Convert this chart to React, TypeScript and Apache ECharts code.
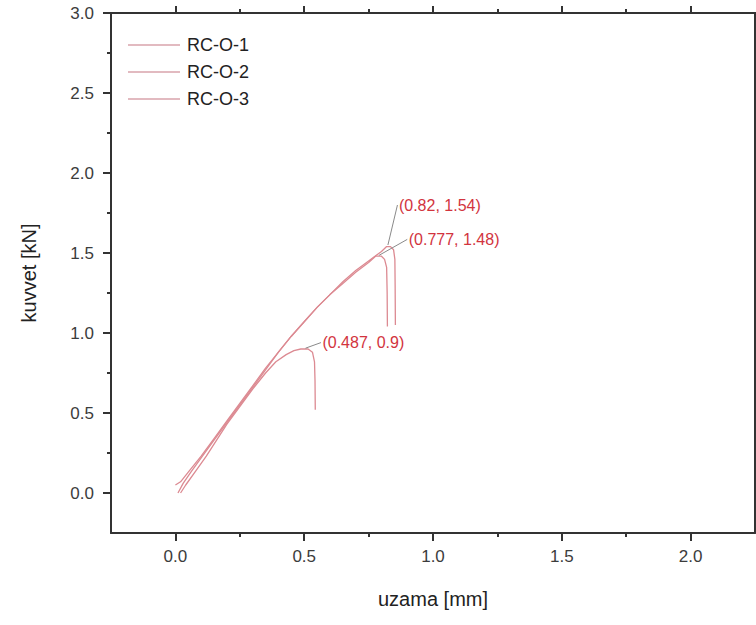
import React, { useEffect, useRef } from 'react';
import * as echarts from 'echarts';

const seriesNames = ['RC-O-1', 'RC-O-2', 'RC-O-3'];

const rc1X = [0.01, 0.03, 0.06, 0.1, 0.15, 0.2, 0.25, 0.3, 0.35, 0.4, 0.45, 0.5, 0.55, 0.6, 0.65, 0.7, 0.75, 0.8, 0.82, 0.835, 0.847, 0.852, 0.853, 0.854];
const rc1Y = [0.0, 0.06, 0.13, 0.22, 0.33, 0.44, 0.55, 0.66, 0.77, 0.88, 0.98, 1.07, 1.16, 1.24, 1.32, 1.39, 1.45, 1.51, 1.54, 1.54, 1.52, 1.46, 1.3, 1.05];

const rc2X = [0.0, 0.02, 0.05, 0.1, 0.15, 0.2, 0.25, 0.3, 0.35, 0.4, 0.45, 0.5, 0.55, 0.6, 0.65, 0.7, 0.75, 0.777, 0.8, 0.812, 0.82, 0.822, 0.823];
const rc2Y = [0.05, 0.07, 0.13, 0.23, 0.34, 0.45, 0.56, 0.67, 0.78, 0.88, 0.98, 1.07, 1.16, 1.24, 1.31, 1.38, 1.44, 1.48, 1.48, 1.46, 1.41, 1.25, 1.04];

const rc3X = [0.02, 0.04, 0.08, 0.12, 0.16, 0.2, 0.25, 0.3, 0.35, 0.39, 0.43, 0.46, 0.487, 0.515, 0.532, 0.54, 0.542, 0.543];
const rc3Y = [0.0, 0.05, 0.14, 0.23, 0.33, 0.43, 0.54, 0.65, 0.75, 0.82, 0.865, 0.89, 0.9, 0.9, 0.88, 0.82, 0.7, 0.52];

const peakX = [0.82, 0.777, 0.487];
const peakY = [1.54, 1.48, 0.9];
const peakLabels = ['(0.82, 1.54)', '(0.777, 1.48)', '(0.487, 0.9)'];

const xMajor = [0, 0.5, 1.0, 1.5, 2.0];
const xMinor = [0.25, 0.75, 1.25, 1.75];
const yMajor = [0, 0.5, 1.0, 1.5, 2.0, 2.5, 3.0];
const yMinor = [0.25, 0.75, 1.25, 1.75, 2.25, 2.75];

const xName = 'uzama [mm]';
const yName = 'kuvvet [kN]';

export default function App() {
  const ref = useRef<HTMLDivElement>(null);
  useEffect(() => {
    if (!ref.current) return;
    const chart = echarts.init(ref.current, undefined, { renderer: 'svg' });
    const font = 'Liberation Sans, Arial, sans-serif';
    const axisColor = '#333333';
    const lineColor = '#dc8a92';
    const textRed = '#d2343e';
    const xs = [rc1X, rc2X, rc3X];
    const ys = [rc1Y, rc2Y, rc3Y];
    // leader-line ends (data units) for annotation labels
    const leaderEnd = [
      [0.862, 1.8],
      [0.9, 1.585],
      [0.565, 0.94],
    ];
    const leaderStart = [
      [0.825, 1.55],
      [0.79, 1.485],
      [0.505, 0.905],
    ];

    const labelStyle = { color: '#3c3c3c', fontSize: 17, fontFamily: font };

    const mkX = (position: string, ticks: number[], len: number, showLabel: boolean, showLine: boolean) => ({
      type: 'value',
      min: -0.25,
      max: 2.25,
      position,
      axisLine: { show: showLine, onZero: false, lineStyle: { color: axisColor, width: 2 } },
      axisTick: { show: true, customValues: ticks, length: len, inside: false, lineStyle: { color: axisColor, width: 2 } },
      axisLabel: showLabel
        ? { show: true, customValues: ticks, formatter: (v: number) => v.toFixed(1), margin: 15, ...labelStyle }
        : { show: false },
      splitLine: { show: false },
    });
    const mkY = (position: string, ticks: number[], len: number, showLabel: boolean, showLine: boolean) => ({
      type: 'value',
      min: -0.25,
      max: 3.0,
      position,
      axisLine: { show: showLine, onZero: false, lineStyle: { color: axisColor, width: 2 } },
      axisTick: { show: true, customValues: ticks, length: len, inside: false, lineStyle: { color: axisColor, width: 2 } },
      axisLabel: showLabel
        ? { show: true, customValues: ticks, formatter: (v: number) => v.toFixed(1), margin: 17, ...labelStyle }
        : { show: false },
      splitLine: { show: false },
    });

    const xAxes: any[] = [
      { ...mkX('bottom', xMajor, 8, true, true), name: xName, nameLocation: 'middle', nameGap: 56, nameTextStyle: { fontSize: 20, color: '#222', fontFamily: font } },
      mkX('bottom', xMinor, 4, false, false),
      mkX('top', xMajor, 7, false, true),
      mkX('top', xMinor, 4, false, false),
    ];
    const yAxes: any[] = [
      { ...mkY('left', yMajor, 8, true, true), name: yName, nameLocation: 'middle', nameGap: 72, nameTextStyle: { fontSize: 20, color: '#222', fontFamily: font } },
      mkY('left', yMinor, 4, false, false),
      mkY('right', yMajor, 6, false, true),
      mkY('right', yMinor, 4, false, false),
    ];

    const series: any[] = seriesNames.map((name, i) => ({
      name,
      type: 'line',
      xAxisIndex: 0,
      yAxisIndex: 0,
      showSymbol: false,
      symbol: 'none',
      smooth: false,
      data: xs[i].map((x, j) => [x, ys[i][j]]),
      lineStyle: { color: lineColor, width: 1.3 },
      itemStyle: { color: lineColor },
      markLine: {
        silent: true,
        symbol: ['none', 'none'],
        lineStyle: { color: '#8a8a8a', width: 1, type: 'solid' },
        label: { show: false },
        data: [[{ coord: leaderStart[i] }, { coord: leaderEnd[i] }]],
      },
      markPoint: {
        silent: true,
        symbol: 'circle',
        symbolSize: 1,
        itemStyle: { color: 'rgba(0,0,0,0)' },
        label: {
          show: true,
          position: 'right',
          distance: 1,
          formatter: peakLabels[i],
          color: textRed,
          fontSize: 16,
          fontFamily: font,
        },
        data: [{ coord: leaderEnd[i], value: peakY[i], name: String(peakX[i]) }],
      },
    }));

    chart.setOption({
      animation: false,
      backgroundColor: '#ffffff',
      grid: { left: 111, right: 1, top: 13, height: 520, containLabel: false },
      legend: {
        left: 123,
        top: 31,
        orient: 'vertical',
        itemWidth: 52,
        itemHeight: 14,
        itemGap: 9,
        icon: 'path://M0,0 L52,0 L52,1.5 L0,1.5 Z',
        data: seriesNames.map((n) => ({ name: n, itemStyle: { color: '#d9a3ab' } })),
        textStyle: { fontSize: 18, color: '#222', fontFamily: font, padding: [0, 0, 0, 2] },
      },
      xAxis: xAxes,
      yAxis: yAxes,
      series,
    });
    return () => chart.dispose();
  }, []);
  return <div ref={ref} style={{ width: 756, height: 625, position: 'absolute', left: 0, top: 0 }} />;
}
